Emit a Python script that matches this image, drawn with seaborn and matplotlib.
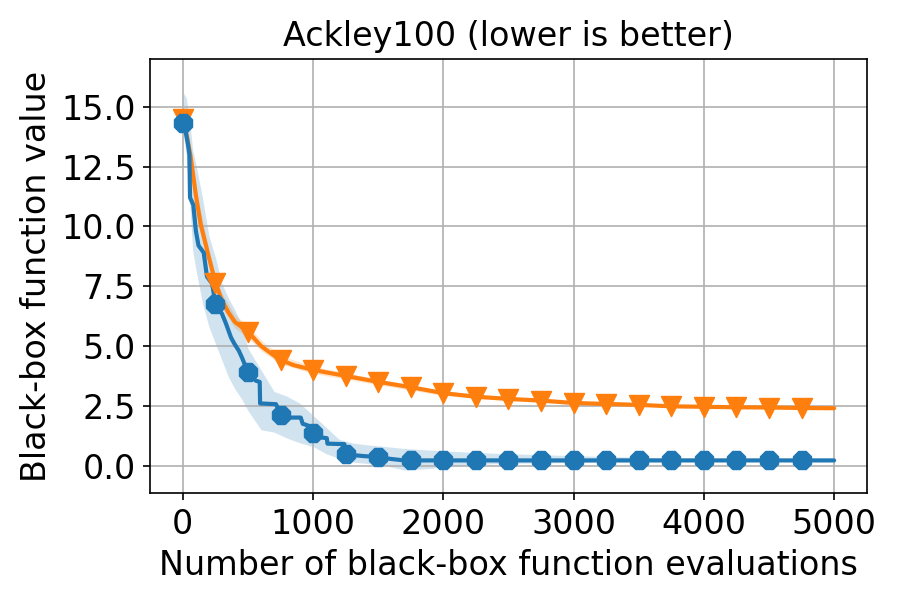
import numpy as np
import pandas as pd
import matplotlib
matplotlib.use("Agg")
import matplotlib.pyplot as plt
import seaborn as sns

sns.set_style("ticks", {"axes.grid": True, "grid.color": "#b0b0b0",
                        "axes.edgecolor": "black", "xtick.color": "black",
                        "ytick.color": "black", "text.color": "black",
                        "axes.labelcolor": "black"})
plt.rcParams['font.family'] = 'DejaVu Sans'
plt.rcParams['axes.axisbelow'] = 'line'

BLUE = "#1f77b4"
ORANGE = "#ff7f0e"

# blue run (best value so far, mean)
blue_x = [0, 20, 40, 50, 55, 80, 100, 120, 160, 185, 225, 250, 300, 330, 370,
          395, 430, 455, 500, 560, 590, 593, 715, 725, 750, 816, 905, 920, 960,
          1000, 1060, 1105, 1110, 1240, 1250, 1390, 1500, 1600, 1700, 1750,
          2000, 2250, 2500, 2750, 3000, 3250, 3500, 3750, 4000, 4250, 4500,
          4750, 5000]
blue_y = [14.3, 14.0, 13.4, 13.0, 11.2, 10.9, 9.8, 9.2, 8.9, 7.9, 7.6, 6.75,
          6.35, 5.95, 5.35, 5.1, 4.8, 4.5, 3.9, 3.55, 3.5, 2.6, 2.57, 2.45,
          2.12, 2.01, 2.01, 1.75, 1.68, 1.38, 1.18, 1.15, 0.92, 0.9, 0.47,
          0.4, 0.36, 0.28, 0.22, 0.22, 0.22, 0.22, 0.22, 0.22, 0.22, 0.22,
          0.22, 0.22, 0.22, 0.22, 0.22, 0.22, 0.22]

# blue spread
blue_band_x = [0, 25, 50, 75, 100, 150, 200, 250, 300, 350, 400, 450, 500, 600,
               700, 800, 900, 1000, 1100, 1200, 1300, 1400, 1550, 1700, 1900,
               2000, 2250, 2500, 3000, 3500, 4000, 5000]
blue_lo = [14.0, 13.0, 11.3, 9.0, 8.2, 6.8, 5.8, 5.1, 4.4, 3.7, 3.2, 2.8, 2.3,
           1.5, 1.4, 1.15, 0.95, 0.8, 0.5, 0.3, 0.15, 0.1, 0.0, -0.18, -0.12,
           -0.05, 0.05, 0.1, 0.13, 0.16, 0.17, 0.18]
blue_hi = [15.6, 15.4, 14.5, 13.2, 12.6, 11.2, 9.6, 8.7, 7.6, 7.0, 6.5, 5.9,
           4.9, 4.0, 3.1, 2.9, 2.6, 2.1, 1.6, 1.1, 0.95, 0.88, 0.8, 0.72, 0.65,
           0.62, 0.55, 0.5, 0.42, 0.35, 0.3, 0.27]

# orange run
orange_x = [0, 30, 60, 100, 136, 200, 250, 300, 350, 400, 450, 500, 600, 700,
            750, 850, 1000, 1250, 1500, 1750, 2000, 2250, 2500, 2750, 3000,
            3250, 3500, 3750, 4000, 4250, 4500, 4750, 5000]
orange_y = [14.5, 13.8, 12.9, 11.3, 10.1, 8.7, 7.65, 6.9, 6.4, 6.0, 5.8, 5.6,
            5.0, 4.6, 4.42, 4.2, 4.0, 3.75, 3.5, 3.28, 3.03, 2.88, 2.79, 2.72,
            2.62, 2.58, 2.54, 2.48, 2.46, 2.44, 2.43, 2.41, 2.40]

orange_band_x = [0, 100, 200, 250, 300, 400, 500, 600, 750, 1000, 1250, 1500,
                 2000, 2500, 3000, 4000, 5000]
orange_lo = [14.3, 11.0, 8.4, 7.3, 6.6, 5.75, 5.35, 4.8, 4.25, 3.85, 3.62, 3.38,
             2.93, 2.72, 2.56, 2.42, 2.36]
orange_hi = [14.7, 11.6, 9.0, 7.95, 7.2, 6.3, 5.85, 5.25, 4.6, 4.15, 3.88, 3.62,
             3.12, 2.86, 2.68, 2.5, 2.44]

marker_step = 250

blue = pd.DataFrame({"x": blue_x, "y": blue_y})
orange = pd.DataFrame({"x": orange_x, "y": orange_y})
blue_marks = blue[(blue.x % marker_step == 0) & (blue.x < 5000)]
orange_marks = orange[(orange.x % marker_step == 0) & (orange.x < 5000)]

fig, ax = plt.subplots(figsize=(6, 4), dpi=150)

ax.fill_between(orange_band_x, orange_lo, orange_hi, color=ORANGE, alpha=0.2, lw=0)
sns.lineplot(data=orange, x="x", y="y", color=ORANGE, lw=2, ax=ax)
sns.scatterplot(data=orange_marks, x="x", y="y", marker="v", s=90, color=ORANGE,
                edgecolor=ORANGE, linewidth=0.8, ax=ax, zorder=3)

ax.fill_between(blue_band_x, blue_lo, blue_hi, color=BLUE, alpha=0.2, lw=0)
sns.lineplot(data=blue, x="x", y="y", color=BLUE, lw=2, ax=ax)
sns.scatterplot(data=blue_marks, x="x", y="y", marker="8", s=85, color=BLUE,
                edgecolor=BLUE, linewidth=0.8, ax=ax, zorder=3)

ax.set_xlim(-250, 5250)
ax.set_ylim(-1.15, 17.0)
ax.set_xticks(np.arange(0, 5001, 1000))
ax.set_yticks(np.arange(0, 15.1, 2.5))
ax.tick_params(labelsize=16, length=3.5, width=0.8)
for s in ax.spines.values():
    s.set_linewidth(0.8)

ax.set_title("Ackley100 (lower is better)", fontsize=16)
ax.set_xlabel("Number of black-box function evaluations", fontsize=16)
ax.set_ylabel("Black-box function value", fontsize=16)

plt.subplots_adjust(left=0.167, right=0.963, bottom=0.178, top=0.902)
plt.savefig("out.png", dpi=150)
